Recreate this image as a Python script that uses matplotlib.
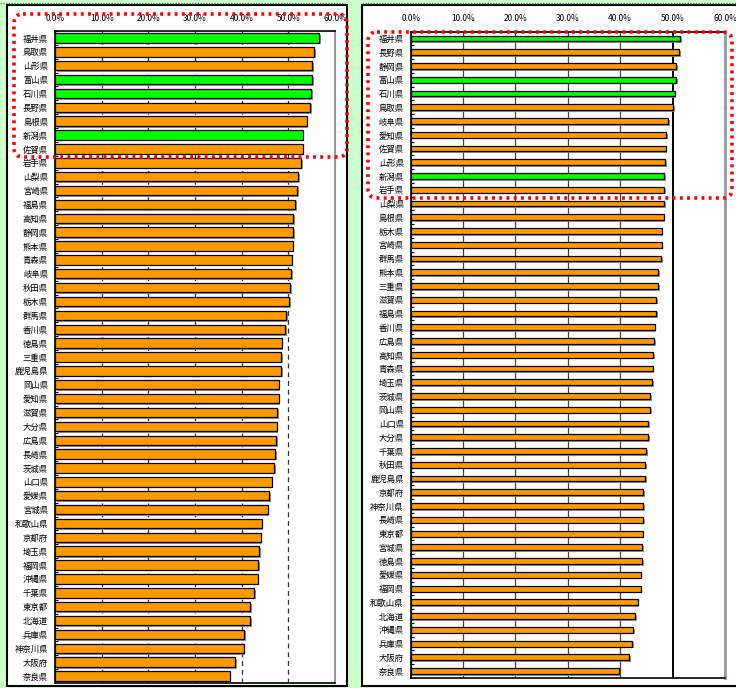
import matplotlib
matplotlib.use("Agg")
import matplotlib.pyplot as plt
import matplotlib.patheffects as pe
from matplotlib.patches import Rectangle, FancyBboxPatch
from matplotlib.ticker import FuncFormatter
import numpy as np

plt.rcParams['font.family'] = ['Noto Sans CJK JP', 'DejaVu Sans']

# left chart (ranking A)
left_names = ['福井県', '鳥取県', '山形県', '富山県', '石川県', '長野県', '島根県', '新潟県',
              '佐賀県', '岩手県', '山梨県', '宮崎県', '福島県', '高知県', '静岡県', '熊本県',
              '青森県', '岐阜県', '秋田県', '栃木県', '群馬県', '香川県', '徳島県', '三重県',
              '鹿児島県', '岡山県', '愛知県', '滋賀県', '大分県', '広島県', '長崎県', '茨城県',
              '山口県', '愛媛県', '宮城県', '和歌山県', '京都府', '埼玉県', '福岡県', '沖縄県',
              '千葉県', '東京都', '北海道', '兵庫県', '神奈川県', '大阪府', '奈良県']
left_vals = [56.6, 55.6, 55.1, 55.1, 54.9, 54.7, 53.9, 53.1, 53.1, 52.8, 52.1, 51.9,
             51.4, 51.1, 51.1, 50.9, 50.7, 50.6, 50.4, 50.2, 49.6, 49.3, 48.6, 48.5,
             48.5, 47.9, 47.9, 47.6, 47.5, 47.4, 47.2, 47.0, 46.4, 45.9, 45.6, 44.3,
             44.1, 43.8, 43.6, 43.4, 42.7, 41.8, 41.8, 40.6, 40.4, 38.6, 37.4]

# right chart (ranking B)
right_names = ['福井県', '長野県', '静岡県', '富山県', '石川県', '鳥取県', '岐阜県', '愛知県',
               '佐賀県', '山形県', '新潟県', '岩手県', '山梨県', '島根県', '栃木県', '宮崎県',
               '群馬県', '熊本県', '三重県', '滋賀県', '福島県', '香川県', '広島県', '高知県',
               '青森県', '埼玉県', '茨城県', '岡山県', '山口県', '大分県', '千葉県', '秋田県',
               '鹿児島県', '京都府', '神奈川県', '長崎県', '東京都', '宮城県', '徳島県', '愛媛県',
               '福岡県', '和歌山県', '北海道', '沖縄県', '兵庫県', '大阪府', '奈良県']
right_vals = [51.5, 51.3, 50.7, 50.7, 50.4, 50.1, 49.2, 48.8, 48.7, 48.6, 48.4, 48.4,
              48.4, 48.3, 47.9, 47.9, 47.8, 47.3, 47.3, 46.9, 46.8, 46.6, 46.5, 46.3,
              46.2, 46.1, 45.7, 45.7, 45.3, 45.3, 44.9, 44.8, 44.8, 44.4, 44.4, 44.4,
              44.3, 44.2, 44.2, 43.9, 43.9, 43.3, 42.9, 42.5, 42.3, 41.7, 39.7]

highlight = ['福井県', '富山県', '石川県', '新潟県']
x_ticks = [0, 10, 20, 30, 40, 50, 60]

ORANGE = '#ff9900'
GREEN = '#00ff00'

W, H = 736, 688
fig = plt.figure(figsize=(W / 100, H / 100), dpi=100)
fig.patch.set_facecolor('#ccffcc')

# panel frames (white boxes with black border)
fig.add_artist(Rectangle((7 / W, 1 - 686 / H), 340 / W, 681 / H, transform=fig.transFigure,
                         facecolor='white', edgecolor='black', lw=1.5, zorder=0))
fig.add_artist(Rectangle((362 / W, 1 - 686 / H), 380 / W, 681 / H, transform=fig.transFigure,
                         facecolor='white', edgecolor='black', lw=1.5, zorder=0))


def draw_panel(ax, names, vals, bar_h, dashed):
    n = len(names)
    y = np.arange(n)
    colors = [GREEN if nm in highlight else ORANGE for nm in names]
    bars = ax.barh(y, vals, height=bar_h, color=colors, edgecolor='black', linewidth=0.9,
                   zorder=3)
    for b in bars:
        b.set_path_effects([pe.SimplePatchShadow(offset=(1.2, -1.2), shadow_rgbFace='#888888',
                                                 alpha=0.9), pe.Normal()])
    ax.set_ylim(n - 0.5, -0.5)
    ax.set_xlim(0, 60)
    ax.set_yticks(y)
    ax.set_yticklabels(names, fontsize=6)
    ax.set_yticks(np.arange(n) - 0.5, minor=True)
    ax.tick_params(axis='y', which='major', length=0, pad=5)
    ax.tick_params(axis='y', which='minor', direction='in', length=2.5, width=0.8)
    ax.set_xticks(x_ticks)
    ax.xaxis.set_major_formatter(FuncFormatter(lambda v, p: f'{v:.1f}%'))
    ax.xaxis.tick_top()
    ax.tick_params(axis='x', which='major', length=0, pad=6, labelsize=6)
    ax.set_axisbelow(True)
    if dashed:
        ax.grid(axis='x', color='#333333', lw=0.9, linestyle=(0, (4, 3)))
    else:
        ax.grid(axis='x', color='#444444', lw=0.9)
        gl = ax.get_xgridlines()
        gl[5].set_color('black')
        gl[5].set_linewidth(1.4)
    ax.grid(axis='y', visible=False)
    for s in ['left', 'top', 'bottom']:
        ax.spines[s].set_color('black')
        ax.spines[s].set_linewidth(1.2)
    ax.spines['right'].set_color('#999999')
    ax.spines['right'].set_linewidth(1.5 if dashed else 2)
    ax.set_facecolor('white')


ax1 = fig.add_axes([55 / W, 1 - 683 / H, 280 / W, 652 / H])
draw_panel(ax1, left_names, left_vals, 0.68, True)

ax2 = fig.add_axes([410.7 / W, 1 - 678 / H, 314.3 / W, 646.3 / H])
draw_panel(ax2, right_names, right_vals, 0.42, False)

# overlay in pixel units for the highlight boxes and top dotted borders
ov = fig.add_axes([0, 0, 1, 1], zorder=10)
ov.set_xlim(0, W)
ov.set_ylim(H, 0)
ov.axis('off')
ov.patch.set_alpha(0)

ov.plot([0, 345], [2.5, 2.5], color='#777777', lw=1, linestyle=(0, (1, 1)))
ov.plot([362, 736], [2.5, 2.5], color='#777777', lw=1, linestyle=(0, (1, 1)))

for (x0, y0, x1, y1) in [(14, 14, 347, 157), (368, 32, 732, 198)]:
    ov.add_patch(FancyBboxPatch((x0, y0), x1 - x0, y1 - y0,
                                boxstyle='round,pad=0,rounding_size=9',
                                facecolor='none', edgecolor='#ff0000', lw=2.6,
                                linestyle=(0, (0.8, 1.2))))

fig.savefig('out.png', dpi=100)
